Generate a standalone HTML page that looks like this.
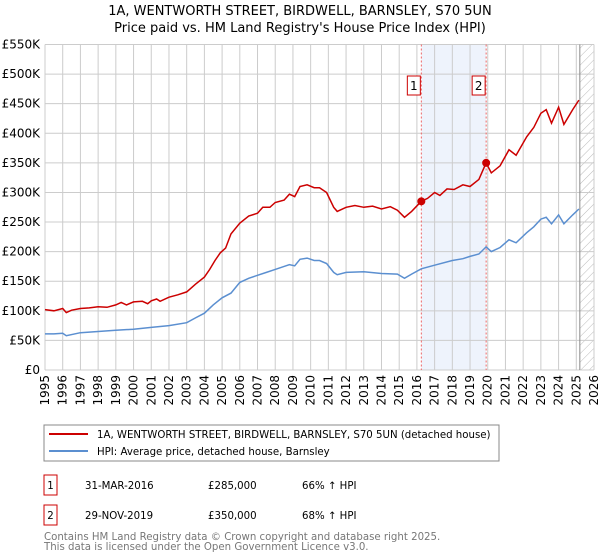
<!DOCTYPE html>
<html><head><meta charset="utf-8"><style>
body{margin:0;background:#fff;font-family:"Liberation Sans","DejaVu Sans",sans-serif;}
svg{display:block}
</style></head><body>
<svg id="c" width="600" height="560" xmlns="http://www.w3.org/2000/svg" font-family="DejaVu Sans, Liberation Sans, sans-serif">
<text x="300" y="15" text-anchor="middle" font-size="13" fill="#000">1A, WENTWORTH STREET, BIRDWELL, BARNSLEY, S70 5UN</text>
<text x="300" y="32" text-anchor="middle" font-size="13" fill="#000">Price paid vs. HM Land Registry's House Price Index (HPI)</text>
<defs><pattern id="hatch" width="6" height="6" patternUnits="userSpaceOnUse" patternTransform="rotate(45)"><line x1="0" y1="0" x2="0" y2="6" stroke="#bbb" stroke-width="1"/></pattern></defs>
<g id="grid"></g><g id="marks"></g><g id="axes"></g>
<rect x="44" y="425" width="455" height="36" fill="#fff" stroke="#888"/>
<line x1="49" y1="434" x2="88" y2="434" stroke="#cc0000" stroke-width="2"/>
<text x="97" y="438" font-size="10.2">1A, WENTWORTH STREET, BIRDWELL, BARNSLEY, S70 5UN (detached house)</text>
<line x1="49" y1="451" x2="88" y2="451" stroke="#5b8fd0" stroke-width="2"/>
<text x="97" y="455" font-size="10.2">HPI: Average price, detached house, Barnsley</text>
<g font-size="10.2">
<rect x="44" y="475" width="13" height="20" fill="#fff" stroke="#cc0000"/>
<text x="50.5" y="489" text-anchor="middle">1</text>
<text x="85" y="489">31-MAR-2016</text>
<text x="208" y="489">£285,000</text>
<text x="302" y="489">66% ↑ HPI</text>
<rect x="44" y="505" width="13" height="20" fill="#fff" stroke="#cc0000"/>
<text x="50.5" y="519" text-anchor="middle">2</text>
<text x="85" y="519">29-NOV-2019</text>
<text x="208" y="519">£350,000</text>
<text x="302" y="519">68% ↑ HPI</text>
</g>
<text x="44" y="540" font-size="10.2" fill="#777">Contains HM Land Registry data © Crown copyright and database right 2025.</text>
<text x="44" y="550" font-size="10.2" fill="#777">This data is licensed under the Open Government Licence v3.0.</text>
</svg>
<script>
const yearTicks=[1995,1996,1997,1998,1999,2000,2001,2002,2003,2004,2005,2006,2007,2008,2009,2010,2011,2012,2013,2014,2015,2016,2017,2018,2019,2020,2021,2022,2023,2024,2025,2026];
const priceTicks=[0,50,100,150,200,250,300,350,400,450,500,550];
const priceLabels=["£0","£50K","£100K","£150K","£200K","£250K","£300K","£350K","£400K","£450K","£500K","£550K"];
const redT=[1995,1995.5,1996,1996.2,1996.5,1997,1997.5,1998,1998.5,1999,1999.3,1999.6,2000,2000.5,2000.8,2001,2001.3,2001.5,2002,2002.5,2003,2003.5,2004,2004.3,2004.6,2004.9,2005.2,2005.5,2006,2006.5,2007,2007.3,2007.7,2008,2008.5,2008.8,2009.1,2009.4,2009.8,2010.2,2010.5,2010.9,2011.3,2011.5,2012,2012.5,2013,2013.5,2014,2014.5,2014.9,2015.3,2015.7,2016.25,2016.6,2017,2017.3,2017.7,2018.1,2018.6,2019,2019.5,2019.91,2020.2,2020.7,2021.2,2021.6,2022.2,2022.6,2023,2023.3,2023.6,2024,2024.3,2024.8,2025.15];
const redV=[102,100,104,97,101,104,105,107,106,110,114,110,115,116,112,117,120,116,123,127,132,145,157,170,185,198,206,230,248,260,265,275,275,283,287,297,293,310,313,308,308,300,275,268,275,278,275,277,272,276,270,258,268,285,290,300,295,306,305,313,310,322,350,333,345,372,363,394,410,434,440,417,444,415,440,456];
const blueT=[1995,1995.5,1996,1996.2,1997,1998,1999,2000,2001,2002,2003,2003.5,2004,2004.5,2005,2005.5,2006,2006.5,2007,2007.5,2008,2008.5,2008.8,2009.1,2009.4,2009.8,2010.2,2010.5,2010.9,2011.3,2011.5,2012,2013,2014,2014.9,2015.3,2015.7,2016.25,2017,2018,2018.6,2019,2019.5,2019.91,2020.2,2020.7,2021.2,2021.6,2022.2,2022.6,2023,2023.3,2023.6,2024,2024.3,2024.8,2025.15];
const blueV=[61,61,62,58,63,65,67,69,72,75,80,88,96,110,122,130,148,155,160,165,170,175,178,176,187,189,185,185,180,165,161,165,166,163,162,155,162,171,177,185,188,192,196,208,200,207,220,215,232,242,255,258,247,262,247,262,272];
const saleT=[2016.25,2019.91];
const saleV=[285,350];
const NS="http://www.w3.org/2000/svg";
const X0=45,X1=594,Y0=370,Y1=44.5;
const x=t=>X0+(t-1995)/(2026-1995)*(X1-X0);
const y=v=>Y0-v/550*(Y0-Y1);
function mk(tag,attrs,parent){const e=document.createElementNS(NS,tag);for(const k in attrs)e.setAttribute(k,attrs[k]);parent.appendChild(e);return e;}
const grid=document.getElementById('grid'),marks=document.getElementById('marks'),axes=document.getElementById('axes');
const bg=mk('rect',{x:X0,y:Y1,width:X1-X0,height:Y0-Y1,fill:'#fff'},grid);


const shade=mk('rect',{x:x(saleT[0]),y:Y1,width:x(saleT[1])-x(saleT[0]),height:Y0-Y1,fill:'#eef3fc'},grid);


const hatch=mk('rect',{x:x(2025.2),y:Y1,width:X1-x(2025.2),height:Y0-Y1,fill:'url(#hatch)'},grid);


yearTicks.forEach(t=>{const l=mk('line',{x1:x(t),x2:x(t),y1:Y1,y2:Y0,stroke:'#ccc'},grid);


const tx=mk('text',{x:0,y:0,'font-size':12,transform:`translate(${x(t)+4},${Y0+5}) rotate(-90)`,'text-anchor':'end'},axes);tx.textContent=t;

});
priceTicks.forEach((v,i)=>{const l=mk('line',{x1:X0,x2:X1,y1:y(v),y2:y(v),stroke:'#ccc'},grid);


const tx=mk('text',{x:X0-5,y:y(v)+4,'font-size':12,'text-anchor':'end'},axes);tx.textContent=priceLabels[i];

});
const nowl=mk('line',{x1:x(2025.2),x2:x(2025.2),y1:Y1,y2:Y0,stroke:'#888'},grid);


saleT.forEach((t,i)=>{const l=mk('line',{x1:x(t),x2:x(t),y1:Y1,y2:Y0,stroke:'#e66','stroke-dasharray':'2,2'},grid);


const r=mk('rect',{x:x(t)-14,y:76,width:13,height:19,fill:'#fff',stroke:'#cc0000'},axes);


const tx=mk('text',{x:x(t)-7.5,y:90,'font-size':12,'text-anchor':'middle'},axes);tx.textContent=String(i+1);

});
const pts=(T,V)=>T.map((t,i)=>x(t).toFixed(1)+','+y(V[i]).toFixed(1)).join(' ');
const bl=mk('polyline',{points:pts(blueT,blueV),fill:'none',stroke:'#5b8fd0','stroke-width':1.5},marks);


const rl=mk('polyline',{points:pts(redT,redV),fill:'none',stroke:'#cc0000','stroke-width':1.5},marks);


saleT.forEach((t,i)=>{const c=mk('circle',{cx:x(t),cy:y(saleV[i]),r:4,fill:'#cc0000'},marks);

});
</script>
</body></html>
